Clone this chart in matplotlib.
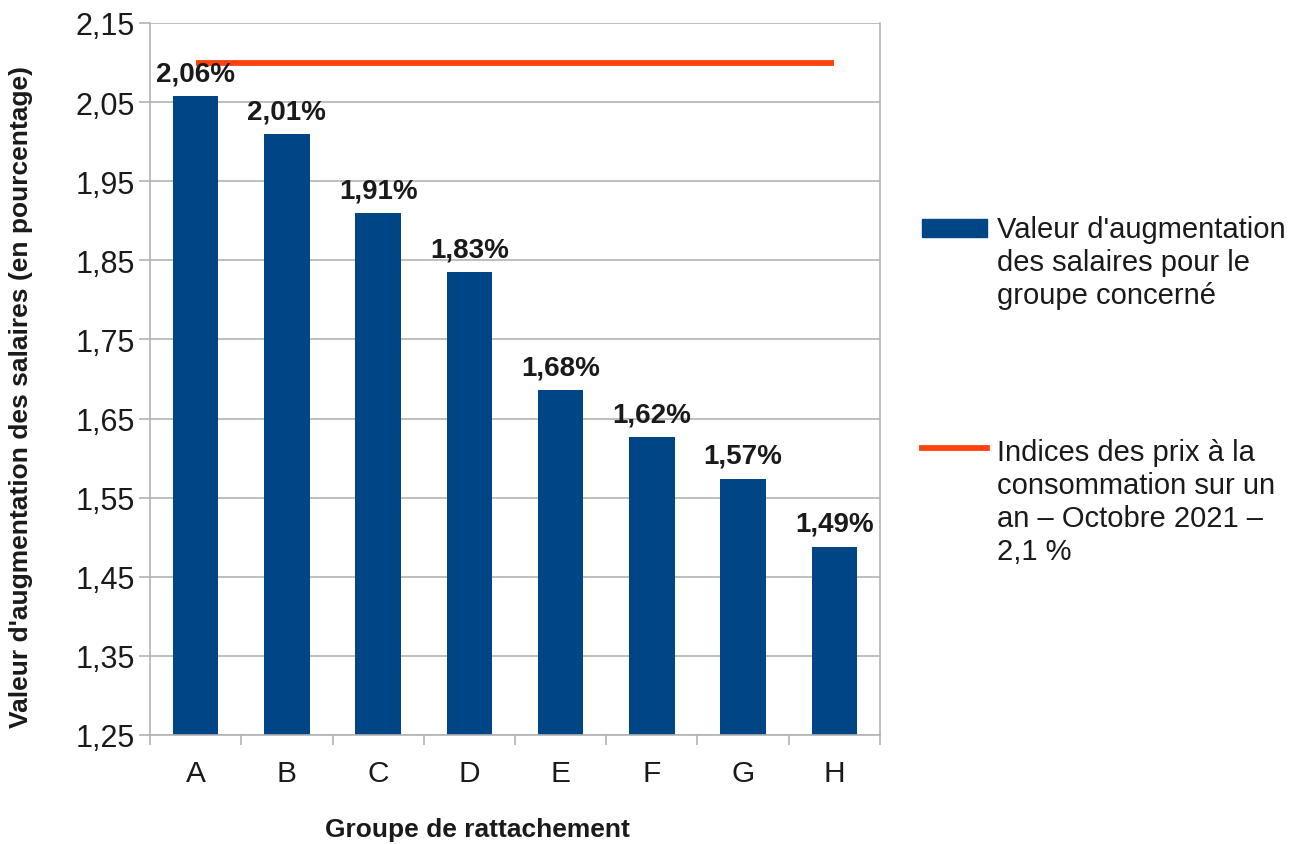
import matplotlib.pyplot as plt
from matplotlib.patches import Rectangle
from matplotlib.lines import Line2D

plt.rcParams['font.family'] = ['Liberation Sans', 'DejaVu Sans']

groupes = ['A', 'B', 'C', 'D', 'E', 'F', 'G', 'H']
augmentation = [2.058, 2.010, 1.910, 1.835, 1.686, 1.627, 1.574, 1.488]
etiquettes = ['2,06%', '2,01%', '1,91%', '1,83%', '1,68%', '1,62%', '1,57%', '1,49%']
ipc = [2.1] * len(groupes)
yticks = [1.25, 1.35, 1.45, 1.55, 1.65, 1.75, 1.85, 1.95, 2.05, 2.15]

bleu = '#004586'
orange = '#ff420e'
gris = '#b3b3b3'
texte = '#1a1a1a'

fig = plt.figure(figsize=(13.01, 8.45), dpi=100)
ax = fig.add_axes([0.1153, 0.129, 0.5611, 0.8426])

x = list(range(len(groupes)))
ax.bar(x, augmentation, width=0.5, bottom=0, color=bleu, zorder=2)
ax.plot(x, ipc, color=orange, linewidth=4.2, solid_capstyle='butt', zorder=3)

for xi, v, t in zip(x, augmentation, etiquettes):
    ax.annotate(t, (xi, v), xytext=(0, 7), textcoords='offset points',
                ha='center', va='bottom', fontsize=20, fontweight='bold',
                color=texte, zorder=4)

ax.set_xlim(-0.5, len(groupes) - 0.5)
ax.set_ylim(1.25, 2.15)
ax.set_yticks(yticks)
ax.set_yticklabels([f'{v:.2f}'.replace('.', ',') for v in yticks])
ax.set_xticks(x)
ax.set_xticklabels(groupes)
ax.set_xticks([i - 0.5 for i in range(len(groupes) + 1)], minor=True)
ax.tick_params(axis='x', which='major', length=0, pad=17, labelsize=21.5, colors=texte)
ax.tick_params(axis='x', which='minor', length=7, color=gris, width=1.2)
ax.tick_params(axis='y', length=8, width=1.2, labelsize=22, colors=texte, pad=3)
ax.tick_params(axis='y', color=gris)

ax.grid(axis='y', color=gris, linewidth=1.2, zorder=0)
ax.spines['top'].set_visible(False)
for s in ['left', 'bottom', 'right']:
    ax.spines[s].set_color(gris)
    ax.spines[s].set_linewidth(1.2)

ax.set_xlabel('Groupe de rattachement', fontsize=19, fontweight='bold', color=texte)
ax.set_ylabel("Valeur d'augmentation des salaires (en pourcentage)", fontsize=19,
              fontweight='bold', color=texte)
ax.xaxis.set_label_coords((477 - 150) / 730, (736 - 818) / 712)
ax.yaxis.set_label_coords((33 - 150) / 730, (736 - 397) / 712)

# legende a droite, symboles alignes sur la premiere ligne
W, H = 1301, 845
fig.patches.append(Rectangle((922 / W, 1 - 238 / H), 65 / W, 18 / H,
                             transform=fig.transFigure, color=bleu))
fig.lines.append(Line2D([922 / W, 987 / W], [1 - 449 / H] * 2,
                        transform=fig.transFigure, color=orange, linewidth=4.2))
fig.text(997 / W, 1 - 216 / H, "Valeur d'augmentation\ndes salaires pour le\ngroupe concerné",
         fontsize=21, va='top', ha='left', linespacing=1.22, color=texte)
fig.text(997 / W, 1 - 439 / H,
         "Indices des prix à la\nconsommation sur un\nan – Octobre 2021 –\n2,1 %",
         fontsize=21, va='top', ha='left', linespacing=1.22, color=texte)

fig.savefig('out.png', dpi=100)
